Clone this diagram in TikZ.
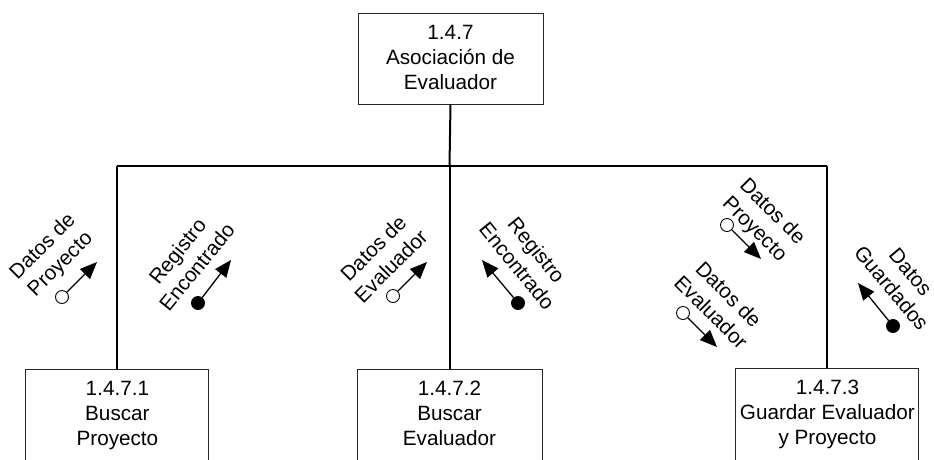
\documentclass[tikz,border=0pt]{standalone}
\usepackage{fontspec}
\setmainfont{Liberation Sans}
\usetikzlibrary{arrows.meta}
\tikzset{
  x=1pt, y=-1pt,
  boxshape/.style={draw=black!85, line width=1pt, rectangle, inner sep=0pt},
  boxtext/.style={font=\fontsize{20.7}{25}\selectfont, align=center, inner sep=0pt, anchor=north},
  conn/.style={draw=black, line width=2pt},
  lbl/.style={font=\fontsize{20.7}{25}\selectfont, align=center, inner sep=0pt},
  opendot/.style={circle, draw=black, fill=white, line width=0.9pt, minimum size=13pt, inner sep=0pt},
  fulldot/.style={circle, draw=black, fill=black, line width=0.9pt, minimum size=13pt, inner sep=0pt},
  flow/.style={draw=black, line width=1.3pt, -{Triangle[length=17pt,width=14pt]}}
}
\begin{document}
\begin{tikzpicture}
\clip (0,0) rectangle (934,459);
\fill[white] (0,0) rectangle (934,459);

% boxes
\node[boxshape, minimum width=185pt, minimum height=91pt] (top) at (450.5,58.5) {};
\node[boxtext] (toptext) at (450.5,25.5) {1.4.7\\Asociación de\\Evaluador};

\node[boxshape, minimum width=183pt, minimum height=130pt, anchor=north] (b1) at (117.4,369) {};
\node[boxtext] (b1text) at (117.4,381) {1.4.7.1\\Buscar\\Proyecto};

\node[boxshape, minimum width=185pt, minimum height=130pt, anchor=north] (b2) at (449.5,369) {};
\node[boxtext] (b2text) at (449.5,381) {1.4.7.2\\Buscar\\Evaluador};

\node[boxshape, minimum width=183pt, minimum height=130pt, anchor=north] (b3) at (827.4,368) {};
\node[boxtext] (b3text) at (827.4,380) {1.4.7.3\\Guardar Evaluador\\y Proyecto};

% connectors
\coordinate (bl) at (117.4,165.5);
\coordinate (bm) at (449.5,165.5);
\coordinate (br) at (827.4,165.5);
\draw[conn] (bl) -- (br);
\draw[conn] (top.south) -- (bm);
\draw[conn] (bl) -- (b1.north);
\draw[conn] (bm) -- (b2.north);
\draw[conn] (br) -- (b3.north);

% flow labels
\node[lbl, rotate=45] (l1) at (52,256) {Datos de\\Proyecto};
\node[lbl, rotate=51] (l2) at (187,259) {Registro\\Encontrado};
\node[lbl, rotate=45] (l3) at (382,257) {Datos de\\Evaluador};
\node[lbl, rotate=-51] (l4) at (527,258) {Registro\\Encontrado};
\node[lbl, rotate=-45] (l5) at (763,221) {Datos de\\Proyecto};
\node[lbl, rotate=-45] (l6) at (720,303) {Datos de\\Evaluador};
\node[lbl, rotate=-50] (l7) at (901,280) {Datos\\Guardados};

% flow arrows
\node[opendot] (c1) at (62,297) {};
\coordinate (t1) at (97,262);
\draw[flow] (c1) -- (t1);

\node[fulldot] (c2) at (198,303) {};
\coordinate (t2) at (231,260);
\draw[flow] (c2) -- (t2);

\node[opendot] (c3) at (393,296) {};
\coordinate (t3) at (427,262);
\draw[flow] (c3) -- (t3);

\node[fulldot] (c4) at (518,303) {};
\coordinate (t4) at (482,260);
\draw[flow] (c4) -- (t4);

\node[opendot] (c5) at (727,225) {};
\coordinate (t5) at (761,259);
\draw[flow] (c5) -- (t5);

\node[opendot] (c6) at (683,313) {};
\coordinate (t6) at (717,347);
\draw[flow] (c6) -- (t6);

\node[fulldot] (c7) at (893,326) {};
\coordinate (t7) at (858,283);
\draw[flow] (c7) -- (t7);
\end{tikzpicture}
\end{document}
